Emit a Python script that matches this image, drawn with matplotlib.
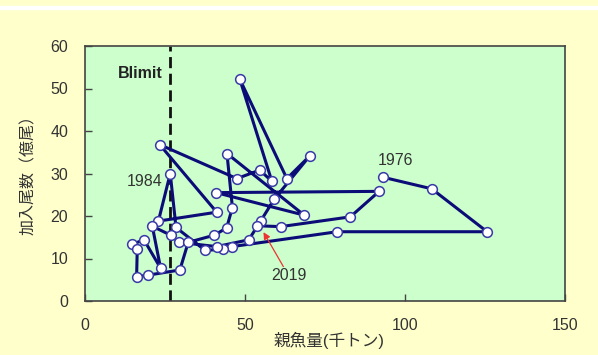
import matplotlib
matplotlib.use('Agg')
import matplotlib.pyplot as plt
from matplotlib.patches import Rectangle

plt.rcParams['font.family'] = ['Liberation Sans', 'Noto Sans CJK JP', 'DejaVu Sans']

# Spawning stock biomass (thousand t) and recruitment (100 million fish), 1976 -> 2019
ssb = [93.2, 108.3, 125.6, 78.8, 46.0, 43.3, 37.6, 28.5, 26.7, 23.0,
       41.2, 23.4, 47.5, 54.6, 58.4, 48.4, 63.1, 70.2, 59.2, 54.9,
       51.2, 41.2, 29.5, 26.8, 21.1, 23.7, 18.5, 14.7, 16.4, 16.2,
       19.9, 29.7, 32.3, 40.5, 44.3, 46.1, 44.4, 68.5, 41.0, 91.9,
       82.9, 61.2, 53.9]
rec = [29.1, 26.4, 16.3, 16.3, 12.8, 12.2, 11.9, 17.3, 30.0, 18.8,
       20.9, 36.8, 28.8, 30.8, 28.2, 52.2, 28.8, 34.1, 24.0, 18.8,
       14.4, 12.8, 13.8, 15.5, 17.6, 7.7, 14.4, 13.3, 12.2, 5.7,
       6.1, 7.3, 13.8, 15.5, 17.2, 22.0, 34.7, 20.2, 25.5, 25.8,
       19.8, 17.5, 17.7]
blimit = 26.7

fig = plt.figure(figsize=(5.98, 3.55), dpi=100, facecolor='#FFFFCC')
fig.patches.append(Rectangle((0, 1 - 8.5 / 355), 1, 2.5 / 355,
                             transform=fig.transFigure, color='white', zorder=0))
ax = fig.add_axes([84.7 / 598, 1 - 301 / 355, 480.6 / 598, 255 / 355])
ax.set_facecolor('#CCFFCC')

ax.plot(ssb, rec, color='#0C0C78', lw=2.2, zorder=3,
        marker='o', ms=7, mfc='white', mec='#3A3AA8', mew=1.1)
ax.axvline(blimit, color='#111111', lw=2.0, ls=(0, (4, 2)), zorder=2)

ax.text(blimit - 2.4, 53.5, 'Blimit', fontsize=11.5, fontweight='bold',
        ha='right', va='center', color='#222222')
ax.text(97.0, 33.1, '1976', fontsize=11.5, ha='center', va='center', color='#333333')
ax.text(18.7, 28.1, '1984', fontsize=11.5, ha='center', va='center', color='#333333')
ax.text(63.8, 5.9, '2019', fontsize=11.5, ha='center', va='center', color='#333333')
ax.annotate('', xy=(55.8, 16.2), xytext=(62.0, 8.1),
            arrowprops=dict(arrowstyle='-|>', color='#EE3333', lw=0.9,
                            mutation_scale=10, shrinkA=0, shrinkB=0))

ax.set_xlim(0, 150)
ax.set_ylim(0, 60)
ax.set_xticks([0, 50, 100, 150])
ax.set_yticks(range(0, 61, 10))
ax.tick_params(direction='in', length=5, width=1, colors='#444444',
               labelcolor='#333333', labelsize=11.5, pad=12)
for s in ax.spines.values():
    s.set_color('#444444')
    s.set_linewidth(1.2)

fig.text(329 / 598, 1 - 340 / 355, '親魚量(千トン)', fontsize=12, ha='center',
         va='center', color='#333333')
fig.text(28.6 / 598, 1 - 171 / 355, '加入尾数（億尾）', fontsize=11.5, ha='center',
         va='center', rotation=90, color='#333333')

fig.savefig('out.png', dpi=100, facecolor=fig.get_facecolor())
